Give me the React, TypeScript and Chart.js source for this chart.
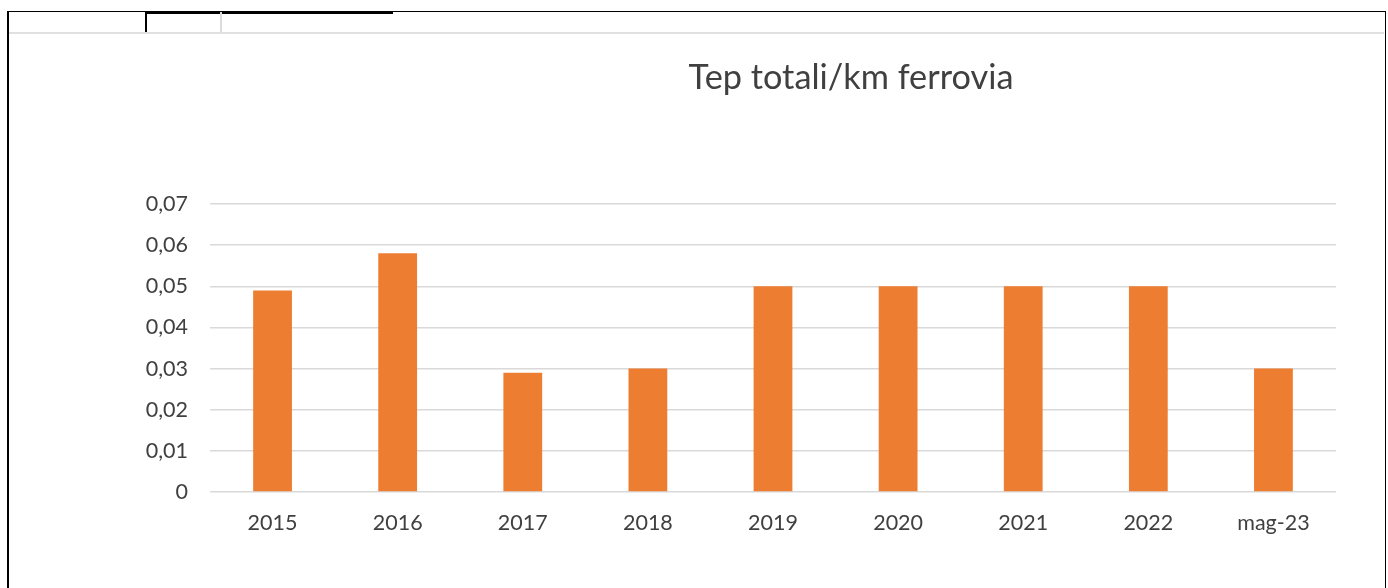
import React, { useEffect, useRef } from "react";
import { Chart, registerables } from "chart.js";

Chart.register(...registerables);

const categories = ["2015", "2016", "2017", "2018", "2019", "2020", "2021", "2022", "mag-23"];
const values = [0.049, 0.058, 0.029, 0.03, 0.05, 0.05, 0.05, 0.05, 0.03];
const yTicks = [0, 0.01, 0.02, 0.03, 0.04, 0.05, 0.06, 0.07];
const titleText = "Tep totali/km ferrovia";

const FONT = "Lato, 'Open Sans', sans-serif";
const TEXT = "#404040";

const titlePlugin = {
  id: "customTitle",
  afterDraw(chart: any) {
    const ctx = chart.ctx;
    ctx.save();
    ctx.font = `34.3px ${FONT}`;
    ctx.fillStyle = TEXT;
    ctx.textAlign = "center";
    ctx.textBaseline = "alphabetic";
    ctx.fillText(titleText, 851, 89);
    ctx.restore();
  },
};

export default function App() {
  const ref = useRef<HTMLCanvasElement | null>(null);

  useEffect(() => {
    if (!ref.current) return;
    const chart = new Chart(ref.current, {
      type: "bar",
      data: {
        labels: categories,
        datasets: [
          {
            data: values,
            backgroundColor: "#ED7D31",
            borderWidth: 0,
            barPercentage: 0.31,
            categoryPercentage: 1,
          },
        ],
      },
      options: {
        animation: false,
        responsive: false,
        maintainAspectRatio: false,
        layout: { padding: { left: 0, right: 52, top: 204, bottom: 36 } },
        plugins: { legend: { display: false }, title: { display: false }, tooltip: { enabled: false } },
        scales: {
          x: {
            grid: { display: false },
            border: { display: false },
            ticks: { color: TEXT, font: { family: FONT, size: 21.5 }, padding: 10, maxRotation: 0 },
            afterFit(scale: any) {
              scale.height = 60;
            },
          },
          y: {
            min: 0,
            max: 0.07,
            afterBuildTicks(scale: any) {
              scale.ticks = yTicks.map((v) => ({ value: v }));
            },
            grid: { color: "#d9d9d9", lineWidth: 1.5, drawTicks: false },
            border: { display: false },
            ticks: {
              color: TEXT,
              font: { family: FONT, size: 21.5 },
              padding: 22,
              callback: (v: any) => (Number(v) === 0 ? "0" : Number(v).toFixed(2).replace(".", ",")),
            },
            afterFit(scale: any) {
              scale.width = 210;
            },
          },
        },
      },
      plugins: [titlePlugin],
    });
    return () => chart.destroy();
  }, []);

  return (
    <div style={{ position: "fixed", left: 0, top: 0, width: 1388, height: 588, background: "#fff", overflow: "hidden" }}>
      <div style={{ position: "absolute", left: 7, top: 11, width: 1376, height: 600, borderTop: "1px solid #000", borderLeft: "2px solid #000", borderRight: "1px solid #000" }} />
      <div style={{ position: "absolute", left: 146, top: 11, width: 247, height: 3, background: "#000" }} />
      <div style={{ position: "absolute", left: 145, top: 12, width: 2, height: 21, background: "#000" }} />
      <div style={{ position: "absolute", left: 220, top: 12, width: 2, height: 21, background: "#dcdcdc" }} />
      <div style={{ position: "absolute", left: 9, top: 32, width: 1375, height: 2, background: "#e0e0e0" }} />
      <canvas ref={ref} width={1388} height={588} style={{ position: "absolute", left: 0, top: 0, width: 1388, height: 588 }} />
    </div>
  );
}
